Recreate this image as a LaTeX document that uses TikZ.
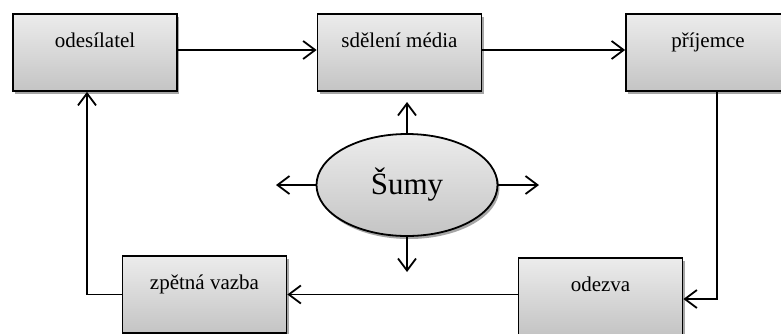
\documentclass[tikz,border=0pt]{standalone}
\usepackage{fontspec}
\setmainfont{Liberation Serif}
\usetikzlibrary{arrows.meta,shapes.geometric,shadows}
\definecolor{topg}{RGB}{236,236,236}
\definecolor{botg}{RGB}{196,196,196}
\begin{document}
\begin{tikzpicture}[x=1pt,y=-1pt,
  boxnode/.style={draw=black,line width=1.8pt,rectangle,minimum width=164pt,minimum height=77pt,
    inner sep=0pt,text height=33pt,text depth=44pt,font=\fontsize{21}{24}\selectfont,
    top color=topg,bottom color=botg,
    drop shadow={shadow xshift=2pt,shadow yshift=-3pt,opacity=0.35,fill=black}},
  noise/.style={draw=black,line width=1.8pt,ellipse,minimum width=181pt,minimum height=102pt,
    inner sep=0pt,font=\fontsize{31}{34}\selectfont,
    top color=topg,bottom color=botg,
    drop shadow={shadow xshift=2pt,shadow yshift=-3pt,opacity=0.35,fill=black}},
  conn/.style={line width=1.8pt,-{Straight Barb[length=12pt,width=18pt,line width=1.8pt]}}]
\useasboundingbox (0,0) rectangle (781,333);
\clip (0,0) rectangle (781,333);
\node[boxnode] (snd) at (95,52.5) {odesílatel};
\node[boxnode] (msg) at (399.5,52.5) {sdělení média};
\node[boxnode] (rcv) at (708,52.5) {příjemce};
\node[boxnode] (fb) at (204.5,294.5) {zpětná vazba};
\node[boxnode] (resp) at (600.5,296.5) {odezva};
\node[noise] (noi) at (407,185) {Šumy};
\coordinate (nu) at (407,102);
\coordinate (nd) at (407,272);
\coordinate (nl) at (276,185);
\coordinate (nr) at (539,185);
\draw[conn] ([yshift=2.5]snd.east) -- ([yshift=2.5]msg.west);
\draw[conn] ([yshift=2.5]msg.east) -- ([yshift=2.5]rcv.west);
\draw[conn] ([xshift=9]rcv.south) |- ([yshift=-2.5]resp.east);
\draw[conn] (resp.west |- fb.east) -- (fb.east);
\draw[conn] (fb.west) -| ([xshift=-8]snd.south);
\draw[conn] (noi.north) -- (nu);
\draw[conn] (noi.south) -- (nd);
\draw[conn] (noi.west) -- (nl);
\draw[conn] (noi.east) -- (nr);
\end{tikzpicture}
\end{document}
